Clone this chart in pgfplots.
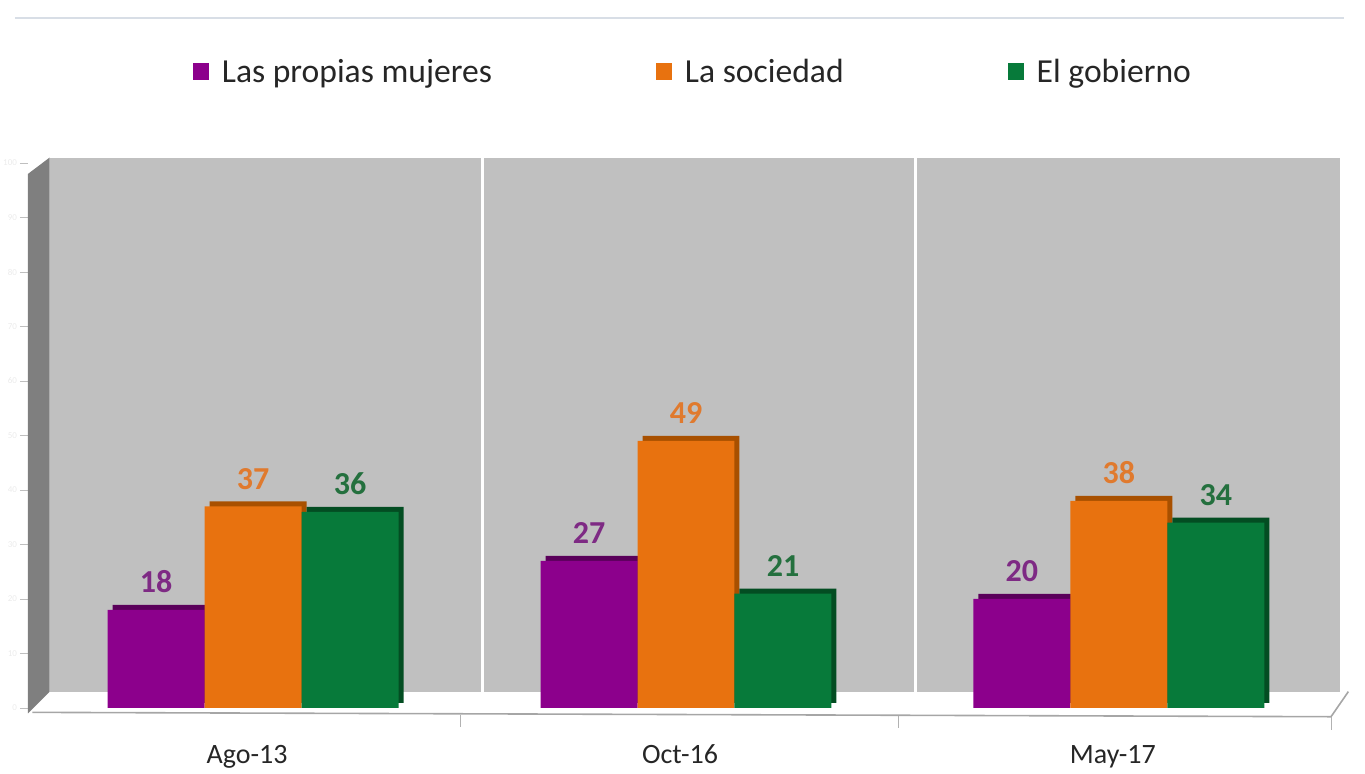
\documentclass[border=0pt]{standalone}
\usepackage{pgfplots}
\usepackage{pgfplotstable}
\pgfplotsset{compat=1.18}
\usepackage{fontspec}
\setmainfont{Carlito}
\definecolor{cpur}{HTML}{8C008C}
\definecolor{cpurD}{HTML}{5A005A}
\definecolor{corg}{HTML}{E8720F}
\definecolor{corgD}{HTML}{A85000}
\definecolor{cgrn}{HTML}{077A3A}
\definecolor{cgrnD}{HTML}{034D22}
\definecolor{lpur}{HTML}{7E2A84}
\definecolor{lorg}{HTML}{E07A2E}
\definecolor{lgrn}{HTML}{24703E}
\definecolor{wall}{HTML}{C0C0C0}
\definecolor{swall}{HTML}{7F7F7F}
\definecolor{topline}{HTML}{D8DEE6}

\pgfplotstableread{
x mujeres sociedad gobierno
0 18 37 36
1 27 49 21
2 20 38 34
}\datatable

\pgfplotsset{sqlegend/.style={legend image code/.code={\fill[##1] (0pt,-4pt) rectangle (8pt,4.5pt);}}}
\tikzset{lab/.style={font=\bfseries\fontsize{16}{18}\selectfont, anchor=south, yshift=5pt}}

\begin{document}
\begin{tikzpicture}
\begin{axis}[
  scale only axis, width=658pt, height=272.5pt,
  xmin=-0.52, xmax=2.52, ymin=0, ymax=100,
  clip=false,
  /pgf/number format/assume math mode=true,
  axis line style={draw=none},
  xtick={0,1,2}, xticklabels={Ago-13,Oct-16,May-17},
  x tick style={draw=none},
  xticklabel style={font=\fontsize{14}{16}\selectfont, text=black!85, yshift=-11pt, xshift=-3pt},
  ytick={0,10,...,100},
  yticklabel style={text=black!8, font=\fontsize{4.5}{5}\selectfont, xshift=2pt},
  ytick pos=left, xtick pos=bottom, tick align=outside,
  major tick length=4pt,
  y tick style={black!25},
  legend style={at={(0.506,1.167)}, anchor=center, draw=none, fill=none,
    legend columns=3, font=\fontsize{16.8}{19}\selectfont, text=black!85,
    /tikz/every even column/.append style={column sep=80pt},
    /tikz/every odd column/.append style={column sep=4.5pt}},
  legend cell align=left,
]
\coordinate (SW) at (rel axis cs:0,0);
\coordinate (NE) at (rel axis cs:1,1);
% walls
\fill[wall] (axis cs:-0.47,3) rectangle (axis cs:2.51,101);
\fill[swall] (axis cs:-0.52,-1) -- (axis cs:-0.52,98) -- (axis cs:-0.47,101) -- (axis cs:-0.47,3) -- cycle;
\draw[white, line width=1.3pt] (axis cs:0.53,3) -- (axis cs:0.53,101);
\draw[white, line width=1.3pt] (axis cs:1.53,3) -- (axis cs:1.53,101);
\draw[black!35, line width=0.8pt] (axis cs:-0.51,-0.8) -- (axis cs:2.49,-1.6) -- (axis cs:2.53,3);
\draw[black!30] (axis cs:0.48,-1.3) -- (axis cs:0.48,-3.5);
\draw[black!30] (axis cs:1.49,-1.5) -- (axis cs:1.49,-3.7);
\draw[black!30] (axis cs:2.49,-1.6) -- (axis cs:2.49,-4);
\draw[topline, line width=1pt] (axis description cs:-0.01,1.266) -- (axis description cs:1.0,1.266);
% shadows (3D depth)
\addplot[ybar, bar width=0.224, bar shift=-0.224, fill=cpurD, draw=none, xshift=2.5pt, yshift=2.5pt, forget plot] table[x=x,y=mujeres]{\datatable};
\addplot[ybar, bar width=0.224, bar shift=0, fill=corgD, draw=none, xshift=2.5pt, yshift=2.5pt, forget plot] table[x=x,y=sociedad]{\datatable};
\addplot[ybar, bar width=0.224, bar shift=0.224, fill=cgrnD, draw=none, xshift=2.5pt, yshift=2.5pt, forget plot] table[x=x,y=gobierno]{\datatable};
% front faces
\addplot[ybar, bar width=0.224, bar shift=-0.224, fill=cpur, draw=none, sqlegend,
  nodes near coords, every node near coord/.append style={lab, text=lpur, xshift=-48.5pt}]
  table[x=x,y=mujeres]{\datatable};
\addlegendentry{Las propias mujeres}
\addplot[ybar, bar width=0.224, bar shift=0, fill=corg, draw=none, sqlegend,
  nodes near coords, every node near coord/.append style={lab, text=lorg}]
  table[x=x,y=sociedad]{\datatable};
\addlegendentry{La sociedad}
\addplot[ybar, bar width=0.224, bar shift=0.224, fill=cgrn, draw=none, sqlegend,
  nodes near coords, every node near coord/.append style={lab, text=lgrn, xshift=48.5pt}]
  table[x=x,y=gobierno]{\datatable};
\addlegendentry{El gobierno}
\end{axis}
\pgfresetboundingbox
\path[use as bounding box] ([xshift=-14pt,yshift=-33pt]SW) rectangle ([xshift=10.5pt,yshift=81.5pt]NE);
\end{tikzpicture}
\end{document}
